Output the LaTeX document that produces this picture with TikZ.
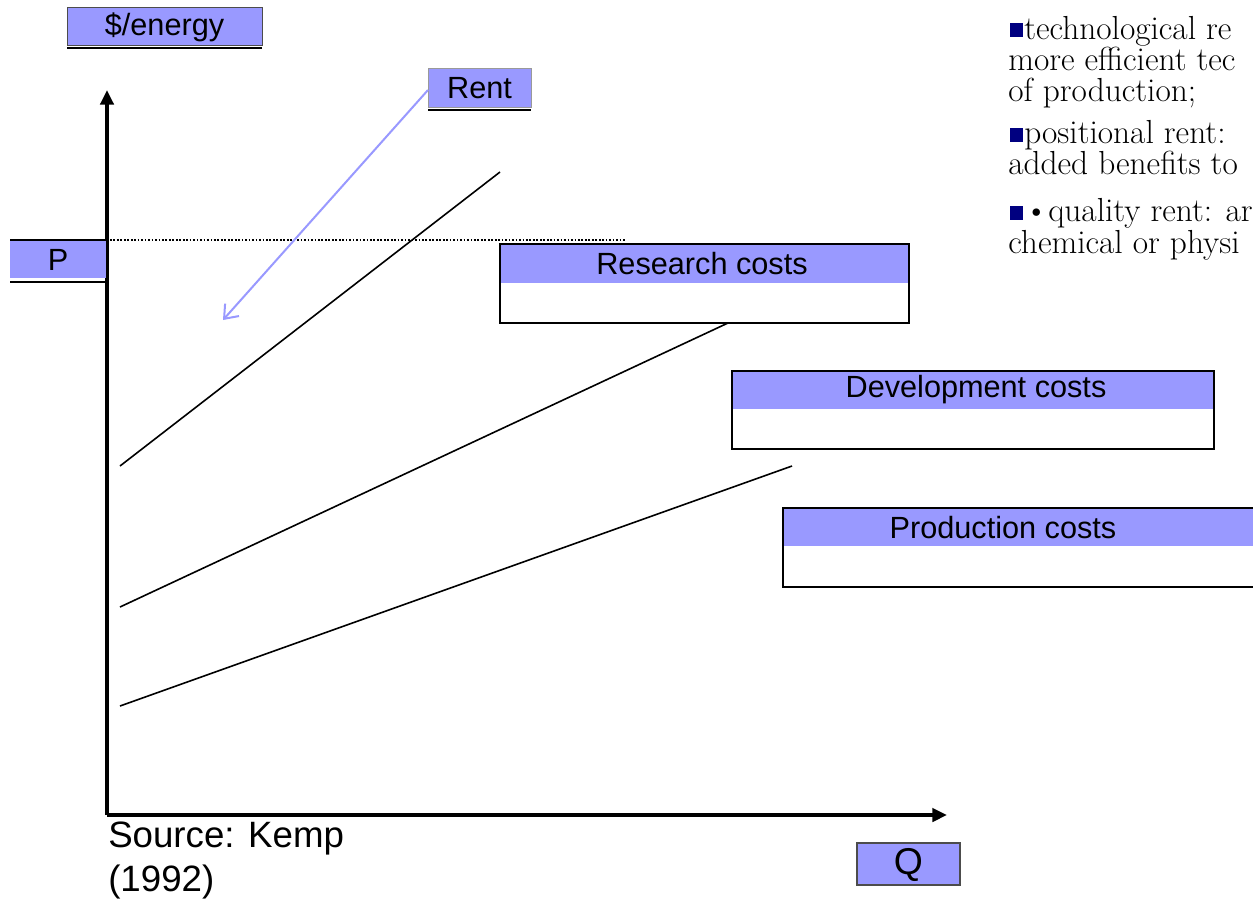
\documentclass[tikz,border=0pt]{standalone}
\usepackage{fontspec}
\setsansfont{Liberation Sans}
\usetikzlibrary{arrows.meta}
\definecolor{lblue}{HTML}{9999FF}
\definecolor{navy}{HTML}{000080}
\tikzset{
  lbl/.style={font=\sffamily\fontsize{23}{27}\selectfont, inner sep=0pt, text=black},
  bigl/.style={font=\sffamily\fontsize{28}{32}\selectfont, inner sep=0pt, text=black},
  axis/.style={line width=2.6pt, -{Triangle[width=10pt,length=11pt]}},
  curve/.style={line width=1.2pt},
  rtext/.style={font=\rmfamily\fontsize{25}{30}\selectfont, anchor=base west, inner sep=0pt},
}
\begin{document}
\begin{tikzpicture}[x=0.75pt,y=-0.75pt]
\useasboundingbox (0,0) rectangle (1253,900);
\clip (0,0) rectangle (1253,900);
\fill[white] (0,0) rectangle (1253,900);

% $/energy label
\draw[draw=black!70, fill=lblue, line width=0.6pt] (67,7) rectangle (262,45);
\draw[line width=1.8pt] (67,48) -- (262,48);
\node[lbl] (energy) at (164.5,27) {\$/energy};

% axes
\coordinate (O) at (107,815);
\coordinate (ytip) at (107,90);
\coordinate (xtip) at (947,815);
\draw[axis] (O) -- (ytip);
\draw[axis] (O) -- (xtip);

% P label
\fill[lblue] (10,240) rectangle (106,278);
\draw[line width=1.2pt] (10,240) -- (106,240);
\draw[line width=1.8pt] (10,282) -- (106,282);
\node[lbl] (P) at (58,260) {P};
\coordinate (d1) at (110,240);
\coordinate (d2) at (625,240);
\draw[line width=1.3pt, dash pattern=on 1.3pt off 1.3pt] (d1) -- (d2);

% cost lines
\coordinate (a1) at (120,466); \coordinate (a2) at (500,172);
\coordinate (b1) at (120,607); \coordinate (b2) at (728,323);
\coordinate (c1) at (120,706); \coordinate (c2) at (792,466);
\draw[curve] (a1) -- (a2);
\draw[curve] (b1) -- (b2);
\draw[curve] (c1) -- (c2);

% Rent label and arrow
\draw[draw=black!40, fill=lblue, line width=0.6pt] (428,68) rectangle (531,107);
\draw[line width=1.8pt] (428,110) -- (531,110);
\node[lbl] (rent) at (479.5,88) {Rent};
\coordinate (rtip) at (223,320);
\draw[lblue, line width=1.5pt, -{Straight Barb[length=9pt,width=14pt]}] (428,90) -- (rtip);

% Research costs
\draw[line width=1pt, fill=white] (500,244) rectangle (909,323);
\fill[lblue] (501,245) rectangle (908,283);
\node[lbl] (research) at (702,264) {Research costs};

% Development costs
\draw[line width=1pt, fill=white] (732,371) rectangle (1214,449);
\fill[lblue] (733,372) rectangle (1213,409);
\node[lbl] (development) at (976,390) {Development costs};

% Production costs
\draw[line width=1pt, fill=white] (783,508) rectangle (1270,587);
\fill[lblue] (784,509) rectangle (1270,546);
\node[lbl] (production) at (1003,528) {Production costs};

% Source
\node[font=\sffamily\fontsize{27.5}{33}\selectfont, anchor=north west, inner sep=0pt, align=left] (source) at (108,822) {Source: Kemp\\(1992)};

% Q label
\draw[draw=black!70, fill=lblue, line width=0.8pt] (857,843) rectangle (960,885);
\node[bigl] (Q) at (908.5,865) {Q};

% right-hand text
\fill[navy] (1010,23) rectangle (1023,37);
\node[rtext] (t1) at (1024,39) {technological re};
\node[rtext] (t2) at (1008,70) {more efficient tec};
\node[rtext] (t3) at (1008,101) {of production;};
\fill[navy] (1010,128) rectangle (1023,142);
\node[rtext] (t4) at (1024,143) {positional rent:};
\node[rtext] (t5) at (1008,174) {added benefits to};
\fill[navy] (1010,206) rectangle (1023,220);
\node[rtext] (t6) at (1024,221) {•quality rent: ar};
\node[rtext] (t7) at (1008,253) {chemical or physi};
\end{tikzpicture}
\end{document}
